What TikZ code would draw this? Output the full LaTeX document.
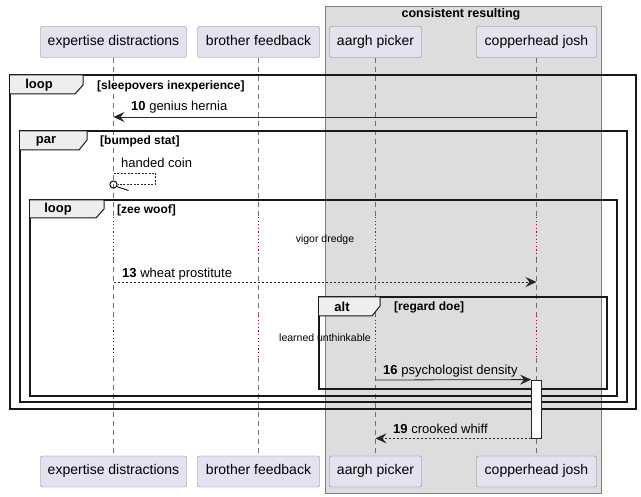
\documentclass[tikz,border=0pt]{standalone}
\usepackage{fontspec}
\setmainfont{Liberation Sans}
\usetikzlibrary{arrows.meta}
\definecolor{partfill}{HTML}{E2E2F0}
\definecolor{boxfill}{HTML}{DDDDDD}
\definecolor{tabfill}{HTML}{EEEEEE}
\definecolor{delayred}{HTML}{A80036}
\definecolor{bordergray}{HTML}{7F7F7F}
\definecolor{lifegray}{HTML}{6F6F6F}
\begin{document}
\begin{tikzpicture}[x=1pt,y=-1pt,
  part/.style={draw=bordergray, fill=partfill, rounded corners=2pt, minimum height=31pt, inner sep=0pt, text height=10pt, text depth=3pt, font=\fontsize{14}{16}\selectfont},
  life/.style={draw=lifegray, dash pattern=on 5pt off 4pt, line width=0.6pt},
  delayline/.style={draw=delayred, dash pattern=on 1.2pt off 2.4pt, line width=1.2pt},
  msg/.style={draw=black!85, line width=0.8pt, -{Stealth[length=11pt,width=10pt,inset=4pt]}},
  dmsg/.style={msg, dash pattern=on 2pt off 2pt},
  frame/.style={draw=black!90, line width=1.4pt},
  tab/.style={draw=black!90, fill=tabfill, line width=1pt},
  kw/.style={font=\bfseries\fontsize{13}{15}\selectfont, inner sep=0pt},
  cond/.style={font=\bfseries\fontsize{12}{14}\selectfont, anchor=west, inner sep=0pt},
  lbl/.style={font=\fontsize{13}{15}\selectfont, anchor=west, inner sep=0pt},
  dlbl/.style={font=\fontsize{10.5}{12}\selectfont, inner sep=0pt}
]
\useasboundingbox (0,0) rectangle (641,497);
\fill[white] (0,0) rectangle (641,497);

% group box
\draw[draw=bordergray, fill=boxfill] (325,6) rectangle (601,493);
\node[font=\bfseries\fontsize{12.5}{14}\selectfont, inner sep=0pt] (grp) at (461,14) {consistent resulting};

% participants
\node[part, minimum width=146pt] (edT) at (113.5,42) {expertise distractions};
\node[part, minimum width=122pt] (bfT) at (258.5,42) {brother feedback};
\node[part, minimum width=92pt] (apT) at (375.5,42) {aargh picker};
\node[part, minimum width=120pt] (cjT) at (536.5,42) {copperhead josh};
\node[part, minimum width=146pt] (edB) at (113.5,471.5) {expertise distractions};
\node[part, minimum width=122pt] (bfB) at (258.5,471.5) {brother feedback};
\node[part, minimum width=92pt] (apB) at (375.5,471.5) {aargh picker};
\node[part, minimum width=120pt] (cjB) at (536.5,471.5) {copperhead josh};

% y levels
\coordinate (d1s) at (0,217);
\coordinate (d1e) at (0,258);
\coordinate (d2s) at (0,316);
\coordinate (d2e) at (0,358);

% lifelines
\foreach \n in {ed,bf,ap,cj}{
  \draw[life] (\n T.south) -- (\n T.south |- d1s);
  \draw[delayline] (\n T.south |- d1s) -- (\n T.south |- d1e);
  \draw[life] (\n T.south |- d1e) -- (\n T.south |- d2s);
  \draw[delayline] (\n T.south |- d2s) -- (\n T.south |- d2e);
  \draw[life] (\n T.south |- d2e) -- (\n B.north);
}

% delay labels
\node[dlbl] (vd) at (325,240) {vigor dredge};
\node[dlbl] (lu) at (325,338) {learned unthinkable};

% outer loop
\draw[frame] (10,75) rectangle (636,409);
\draw[tab] (10,75) -- (83,75) -- (83,85) -- (75,94) -- (10,94);
\node[kw] (k1) at (39,85.5) {loop};
\node[cond] (c1) at (97,86) {[sleepovers inexperience]};

% message 10
\coordinate (y10) at (0,117);
\draw[msg] (cjT |- y10) -- (edT |- y10);
\node[lbl] (l10) at (131,107) {\textbf{10} genius hernia};

% par
\draw[frame] (20,131) rectangle (627,402);
\draw[tab] (20,131) -- (87,131) -- (87,140) -- (79,150) -- (20,150);
\node[kw] (k2) at (46,141) {par};
\node[cond] (c2) at (100,141) {[bumped stat]};

% self message handed coin
\coordinate (y14a) at (0,173);
\coordinate (y14b) at (0,184.5);
\node[lbl] (l14) at (121,163) {handed coin};
\draw[draw=black!85, dash pattern=on 2pt off 1.5pt, line width=0.7pt] (edT |- y14a) -- ++(42,0) -- ++(0,11.5) -- ([xshift=4pt]edT |- y14b);
\draw[line width=0.9pt] (edT |- y14b) circle (3.6pt);
\draw[line width=0.8pt] ([xshift=3pt,yshift=-2pt]edT |- y14b) -- ([xshift=15pt,yshift=-6pt]edT |- y14b);

% inner loop
\draw[frame] (30,200) rectangle (617,396);
\draw[tab] (30,200) -- (104,200) -- (104,209) -- (96,218) -- (30,218);
\node[kw] (k3) at (58,209.5) {loop};
\node[cond] (c3) at (117,210) {[zee woof]};

% message 13
\coordinate (y13) at (0,282);
\draw[dmsg] (edT |- y13) -- (cjT |- y13);
\node[lbl] (l13) at (122,274) {\textbf{13} wheat prostitute};

% alt
\draw[frame] (319,297) rectangle (607,389);
\draw[tab] (319,297) -- (380,297) -- (380,306) -- (372,316) -- (319,316);
\node[kw] (k4) at (342,306.5) {alt};
\node[cond] (c4) at (394,307) {[regard doe]};

% activation
\node[draw=black!85, fill=white, minimum width=10pt, minimum height=58pt, inner sep=0pt, line width=0.8pt] (act) at (536.5,409) {};

% message 16
\coordinate (y16) at (0,380);
\draw[msg] (apT |- y16) -- (act.north west);
\node[lbl] (l16) at (383,371) {\textbf{16} psychologist density};

% message 19
\draw[dmsg] (act.south west) -- (apT |- act.south);
\node[lbl] (l19) at (393,429) {\textbf{19} crooked whiff};
\end{tikzpicture}
\end{document}
